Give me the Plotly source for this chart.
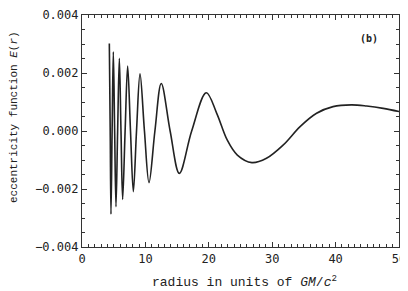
import plotly.graph_objects as go

# radius (units of GM/c^2) and eccentricity function E(r)
radius = [4.31, 4.45, 4.57, 4.75, 4.94, 5.15, 5.36, 5.62, 5.89, 6.15, 6.41, 6.8,
          7.2, 7.65, 8.1, 8.6, 9.15, 9.85, 10.57, 11.5, 12.5, 13.9, 15.35,
          17.3, 19.6, 21.25, 22.9, 24.5, 26.8, 29.1, 31.75, 34.4, 37.0,
          39.6, 42.5, 44.9, 47.5, 50.0]
ecc = [0.00302, 0.0, -0.00287, 0.0, 0.00273, 0.0, -0.00261, 0.0, 0.00251, 0.0,
       -0.00236, 0.0, 0.00224, 0.0, -0.00209, 0.0, 0.00197, 0.0, -0.00178, 0.0,
       0.00164, 0.0, -0.00146, 0.0, 0.00132, 0.00061, -0.00031, -0.00083,
       -0.00109, -0.00094, -0.00048, 0.00015, 0.00061, 0.00084, 0.00090,
       0.00086, 0.00078, 0.00067]

x_ticks = [0, 10, 20, 30, 40, 50]
y_ticks = [-0.004, -0.002, 0.0, 0.002, 0.004]
y_tick_text = ["\u22120.004", "\u22120.002", "0.000", "0.002", "0.004"]

tick_font = "DejaVu Sans Mono, monospace"
title_font = "Liberation Mono, Courier New, monospace"
ink = "#222222"

# the page body adds an 8 px offset, so the figure is sized to fit inside it
OFF = 8
W, H = 408 - OFF, 291 - OFF
L, R, T, B = 82 - OFF, 9, 15 - OFF, 44
pw, ph = W - L - R, H - T - B


def px_x(x):  # page pixel -> paper x
    return (x - OFF - L) / pw


def px_y(y):  # page pixel -> paper y
    return (T + ph - (y - OFF)) / ph


fig = go.Figure(go.Scatter(
    x=radius, y=ecc, mode="lines",
    line=dict(color=ink, width=1.6, shape="spline", smoothing=1.0),
    showlegend=False,
))

axis_common = dict(
    showgrid=False, zeroline=False, showline=True, linecolor="#333333",
    linewidth=1.2, mirror="ticks", ticks="inside", ticklen=5, tickwidth=1,
    tickcolor="#333333", tickfont=dict(size=12, color=ink, family=tick_font),
    automargin=False, ticklabeloverflow="allow",
)

fig.update_xaxes(
    range=[0, 50], tickvals=x_ticks, ticktext=[str(v) for v in x_ticks],
    minor=dict(dtick=1, ticks="inside", ticklen=2.5, tickcolor="#333333"),
    **axis_common,
)
fig.update_yaxes(
    range=[-0.004, 0.004], tickvals=y_ticks, ticktext=y_tick_text,
    minor=dict(dtick=0.0005, ticks="inside", ticklen=2.5, tickcolor="#333333"),
    **axis_common,
)

fig.add_annotation(
    x=px_x(244), y=px_y(281), xref="paper", yref="paper",
    text="radius in units of <i>GM</i>/<i>c</i><sup>2</sup>", showarrow=False,
    font=dict(size=13, color=ink, family=title_font),
    xanchor="center", yanchor="middle",
)
fig.add_annotation(
    x=px_x(14), y=px_y(117), xref="paper", yref="paper",
    text="eccentricity function <i>E</i>(<i>r</i>)", showarrow=False, textangle=-90,
    font=dict(size=11, color=ink, family=title_font),
    xanchor="center", yanchor="middle",
)
fig.add_annotation(
    x=px_x(369), y=px_y(39), xref="paper", yref="paper",
    text="<b>(b)</b>", showarrow=False,
    font=dict(size=10, color=ink, family=tick_font),
    xanchor="center", yanchor="middle",
)

fig.update_layout(
    width=W, height=H,
    margin=dict(l=L, r=R, t=T, b=B),
    paper_bgcolor="white", plot_bgcolor="white",
)

fig.write_html("out.html")
